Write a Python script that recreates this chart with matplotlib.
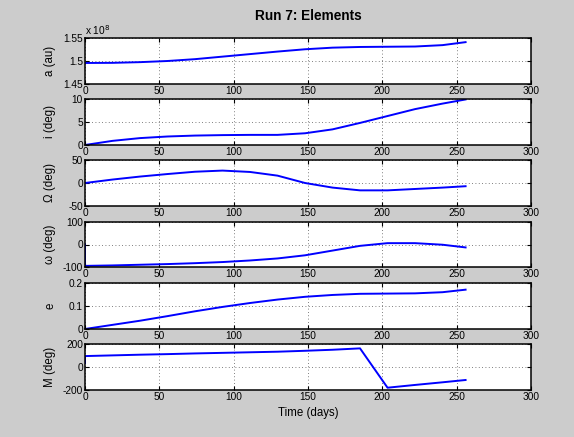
import matplotlib
matplotlib.use("Agg")
import matplotlib.pyplot as plt
import numpy as np

plt.rcParams['font.family'] = ['Liberation Sans', 'DejaVu Sans']

# Time samples (days); first sample duplicated (initial state jump)
t = [0, 0, 18.5, 37, 55.5, 74, 92.5, 111, 129.5, 148, 166.5, 185, 203.5, 222, 240.5, 256]

a_km = [1.4957e8, 1.4957e8, 1.4960e8, 1.4975e8, 1.5000e8, 1.5040e8, 1.5095e8, 1.5150e8,
        1.5205e8, 1.5255e8, 1.5290e8, 1.5305e8, 1.5310e8, 1.5315e8, 1.5345e8, 1.5410e8]
inc = [0, 0, 0.9, 1.5, 1.85, 2.05, 2.15, 2.2, 2.2, 2.55, 3.4, 4.8, 6.3, 7.8, 9.0, 9.9]
raan = [0, 0, 7.5, 14, 19.5, 24.5, 27, 24, 16, 0, -10, -16, -16, -13, -10, -7]
argp = [0, -95, -93, -90, -87, -83, -78, -71, -62, -48, -27, -6, 6, 6, -1, -13]
ecc = [0, 0, 0.018, 0.036, 0.056, 0.077, 0.096, 0.113, 0.128, 0.140, 0.148, 0.153,
       0.154, 0.155, 0.160, 0.171]
mean_anom = [35, 95, 101, 107, 112, 118, 123, 128, 133, 141, 150, 162, -180, -156, -133, -113]

ylabels = ['a (au)', 'i (deg)', 'Ω (deg)', 'ω (deg)', 'e', 'M (deg)']
yticks = [[1.45, 1.5, 1.55], [0, 5, 10], [-50, 0, 50], [-100, 0, 100], [0, 0.1, 0.2], [-200, 0, 200]]
yticklabels = [['1.45', '1.5', '1.55'], ['0', '5', '10'], ['-50', '0', '50'],
               ['-100', '0', '100'], ['0', '0.1', '0.2'], ['-200', '0', '200']]
xticks = [0, 50, 100, 150, 200, 250, 300]
title = 'Run 7: Elements'
xlabel = 'Time (days)'

series = [np.array(a_km) / 1e8, inc, raan, argp, ecc, mean_anom]

W, H = 574, 437
fig = plt.figure(figsize=(W / 100, H / 100), dpi=100, facecolor='#cccccc')

rows = [(38, 84), (99, 145), (160, 206), (222, 267), (283, 329), (344, 390)]
left_px, right_px = 85, 531
fs = 7.3
lfs = 8.3

axes = []
for k, (top, bot) in enumerate(rows):
    ax = fig.add_axes([left_px / W, 1 - bot / H, (right_px - left_px) / W, (bot - top) / H])
    ax.plot(t, series[k], color=(0, 0, 1), lw=1.4)
    ax.set_xlim(0, 300)
    ax.set_ylim(yticks[k][0], yticks[k][-1])
    ax.set_xticks(xticks)
    ax.set_xticklabels([str(v) for v in xticks], fontsize=fs)
    ax.set_yticks(yticks[k])
    ax.set_yticklabels(yticklabels[k], fontsize=fs)
    ax.grid(True, linestyle=(0, (1, 3)), color='#555555', lw=0.6)
    ax.tick_params(direction='in', length=3, width=0.8, top=True, right=True, pad=1.5)
    for s in ax.spines.values():
        s.set_linewidth(1.1)
    ax.set_ylabel(ylabels[k], fontsize=lfs)
    ax.yaxis.set_label_coords(-0.064, 0.5)
    axes.append(ax)

axes[0].text(0, 1.03, 'x 10$^{8}$', transform=axes[0].transAxes, fontsize=fs,
             ha='left', va='bottom')
fig.text((left_px + right_px) / 2 / W, 1 - 16 / H, title, fontsize=9.8, fontweight='bold',
         ha='center', va='center')
fig.text((left_px + right_px) / 2 / W, 1 - 413 / H, xlabel, fontsize=lfs,
         ha='center', va='center')

fig.savefig('out.png', dpi=100, facecolor=fig.get_facecolor())
